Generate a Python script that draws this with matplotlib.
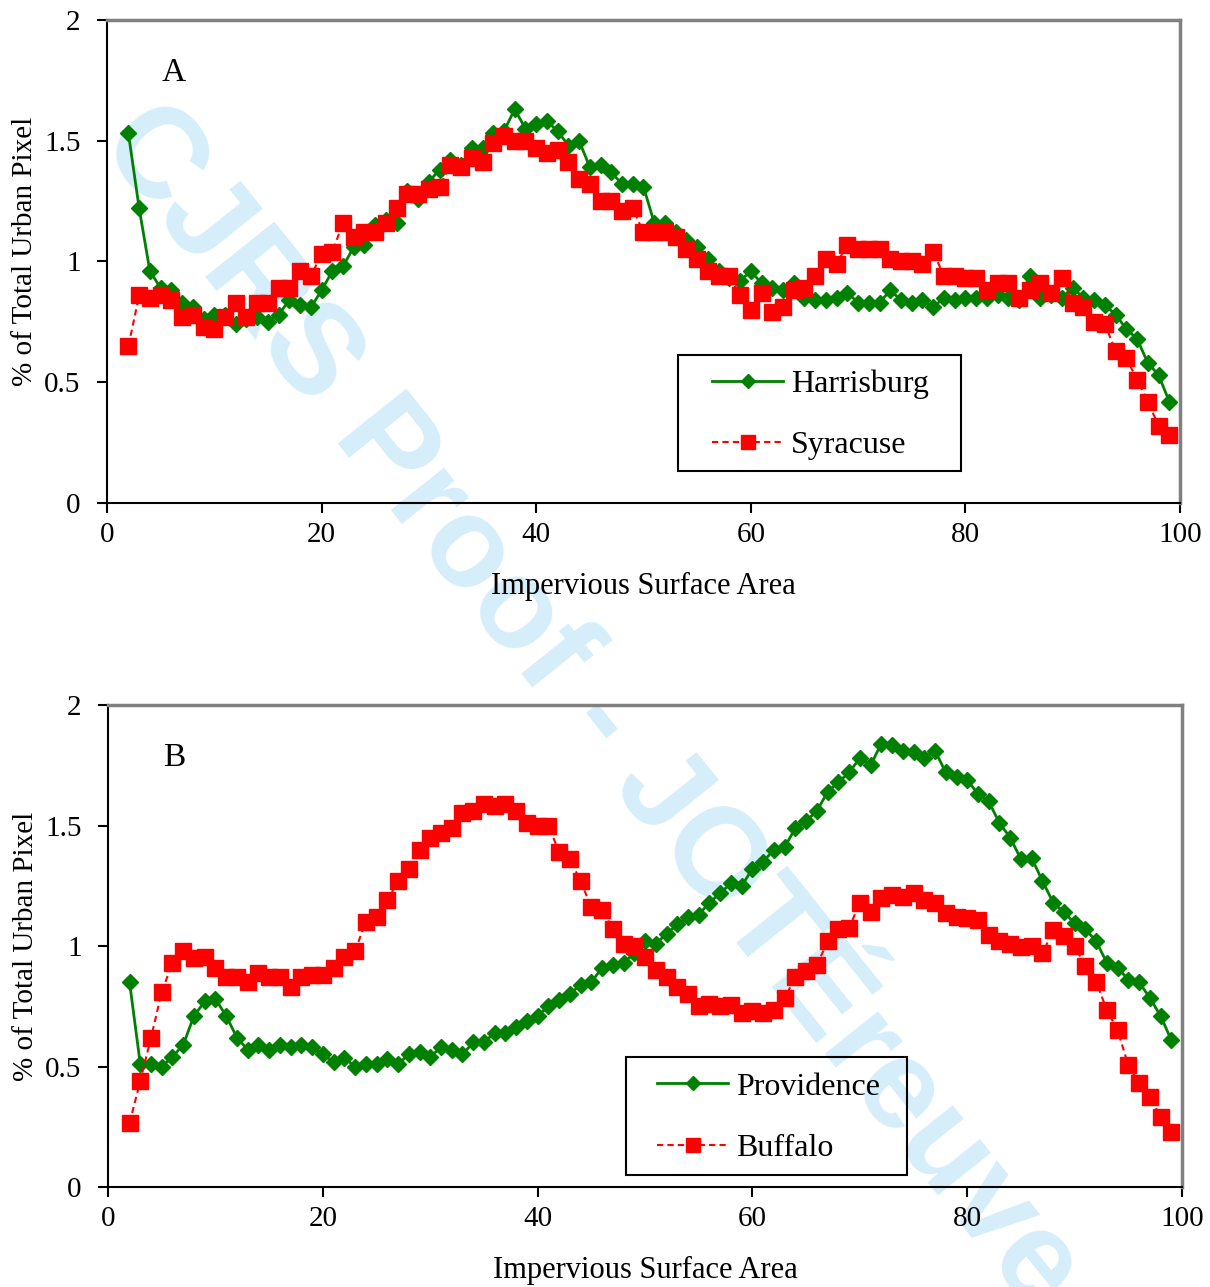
import matplotlib
matplotlib.use("Agg")
import matplotlib.pyplot as plt
from matplotlib.patches import Rectangle

plt.rcParams['font.family'] = ['Liberation Serif', 'DejaVu Serif']

# impervious surface area (%) on the x axis
imperv = list(range(2, 100))

harrisburg = [1.53, 1.22, 0.96, 0.89, 0.88, 0.83, 0.81, 0.76, 0.78, 0.78,
              0.74, 0.76, 0.77, 0.75, 0.78, 0.84, 0.82, 0.81, 0.88, 0.96,
              0.98, 1.06, 1.07, 1.15, 1.17, 1.16, 1.29, 1.26, 1.33, 1.38,
              1.42, 1.40, 1.47, 1.47, 1.53, 1.54, 1.63, 1.55, 1.57, 1.58,
              1.54, 1.48, 1.50, 1.39, 1.40, 1.37, 1.32, 1.32, 1.31, 1.16,
              1.16, 1.12, 1.09, 1.06, 1.01, 0.96, 0.93, 0.92, 0.96, 0.91,
              0.89, 0.88, 0.91, 0.85, 0.84, 0.84, 0.85, 0.87, 0.83, 0.83,
              0.83, 0.88, 0.84, 0.83, 0.84, 0.81, 0.85, 0.84, 0.85, 0.85,
              0.85, 0.86, 0.85, 0.84, 0.94, 0.85, 0.86, 0.85, 0.89, 0.85,
              0.84, 0.82, 0.78, 0.72, 0.68, 0.58, 0.53, 0.42]

syracuse = [0.65, 0.86, 0.85, 0.86, 0.84, 0.77, 0.78, 0.73, 0.72, 0.77,
            0.83, 0.77, 0.83, 0.83, 0.89, 0.89, 0.96, 0.94, 1.03, 1.04,
            1.16, 1.10, 1.12, 1.12, 1.16, 1.22, 1.28, 1.28, 1.30, 1.31,
            1.40, 1.39, 1.43, 1.41, 1.49, 1.52, 1.50, 1.50, 1.47, 1.45,
            1.46, 1.41, 1.34, 1.32, 1.25, 1.25, 1.21, 1.22, 1.12, 1.12,
            1.12, 1.10, 1.05, 1.01, 0.96, 0.94, 0.94, 0.86, 0.80, 0.87,
            0.79, 0.81, 0.88, 0.89, 0.94, 1.01, 0.99, 1.07, 1.05, 1.05,
            1.05, 1.01, 1.00, 1.00, 0.99, 1.04, 0.94, 0.94, 0.93, 0.93,
            0.88, 0.91, 0.91, 0.85, 0.88, 0.91, 0.87, 0.93, 0.83, 0.81,
            0.75, 0.74, 0.63, 0.60, 0.51, 0.42, 0.32, 0.28]

providence = [0.85, 0.51, 0.51, 0.50, 0.54, 0.59, 0.71, 0.77, 0.78, 0.71,
              0.62, 0.57, 0.59, 0.57, 0.59, 0.58, 0.59, 0.58, 0.55, 0.52,
              0.535, 0.50, 0.51, 0.51, 0.53, 0.51, 0.55, 0.56, 0.54, 0.58,
              0.57, 0.55, 0.60, 0.60, 0.64, 0.64, 0.665, 0.69, 0.71, 0.75,
              0.775, 0.80, 0.84, 0.85, 0.91, 0.92, 0.93, 0.97, 1.02, 1.01,
              1.05, 1.09, 1.12, 1.13, 1.18, 1.22, 1.26, 1.25, 1.32, 1.35,
              1.40, 1.41, 1.49, 1.52, 1.56, 1.64, 1.68, 1.72, 1.78, 1.75,
              1.84, 1.835, 1.81, 1.805, 1.78, 1.81, 1.72, 1.70, 1.69, 1.63,
              1.60, 1.51, 1.45, 1.36, 1.365, 1.27, 1.18, 1.14, 1.095, 1.07,
              1.02, 0.93, 0.91, 0.86, 0.85, 0.785, 0.71, 0.61]

buffalo = [0.265, 0.44, 0.62, 0.81, 0.93, 0.98, 0.95, 0.955, 0.91, 0.87,
           0.87, 0.85, 0.89, 0.87, 0.87, 0.83, 0.87, 0.88, 0.88, 0.91,
           0.955, 0.98, 1.10, 1.12, 1.19, 1.27, 1.32, 1.40, 1.45, 1.47,
           1.49, 1.55, 1.56, 1.59, 1.58, 1.59, 1.56, 1.51, 1.50, 1.50,
           1.39, 1.36, 1.27, 1.16, 1.15, 1.07, 1.01, 1.00, 0.955, 0.90,
           0.87, 0.83, 0.80, 0.75, 0.76, 0.75, 0.755, 0.72, 0.73, 0.72,
           0.735, 0.785, 0.87, 0.895, 0.92, 1.02, 1.07, 1.075, 1.18, 1.14,
           1.20, 1.21, 1.205, 1.22, 1.19, 1.18, 1.135, 1.12, 1.115, 1.11,
           1.045, 1.02, 1.01, 0.995, 1.00, 0.97, 1.065, 1.04, 1.00, 0.915,
           0.85, 0.735, 0.65, 0.505, 0.43, 0.375, 0.29, 0.23]

xticks = [0, 20, 40, 60, 80, 100]
yticks = [0, 0.5, 1, 1.5, 2]
ytick_labels = ["0", "0.5", "1", "1.5", "2"]

fig = plt.figure(figsize=(12.1, 12.87), dpi=100)

# watermark behind everything
fig.text(0.101, 0.905, "CJRS Proof - JOTÉreuve", rotation=-51.4,
         rotation_mode='anchor', ha='left', va='center', fontsize=92,
         family=['Liberation Sans', 'DejaVu Sans'], weight='bold',
         color='#d5eefa', zorder=-1)

panels = [
    dict(rect=[0.0884, 0.6092, 0.8868, 0.3753], green=harrisburg, red=syracuse,
         names=("Harrisburg", "Syracuse"), tag="A",
         box=(0.532, 0.066, 0.796, 0.306), leg=(0.665, 0.182), ylab=0.52),
    dict(rect=[0.0893, 0.0777, 0.8876, 0.3745], green=providence, red=buffalo,
         names=("Providence", "Buffalo"), tag="B",
         box=(0.482, 0.025, 0.744, 0.270), leg=(0.615, 0.144), ylab=0.50),
]

for p in panels:
    ax = fig.add_axes(p['rect'])
    ax.patch.set_alpha(0)

    ax.plot(imperv, p['green'], color='#008000', lw=2, marker='D', ms=8,
            mec='#008000', label=p['names'][0])
    ax.plot(imperv, p['red'], color='#ff0000', lw=1.5, ls=(0, (3, 2)),
            marker='s', ms=11, mec='#ff0000', label=p['names'][1])

    ax.set_xlim(0, 100)
    ax.set_ylim(0, 2)
    ax.set_xticks(xticks)
    ax.set_yticks(yticks)
    ax.set_yticklabels(ytick_labels)
    ax.tick_params(direction='out', length=7, width=1.5, labelsize=21)
    ax.tick_params(axis='x', pad=7)
    ax.tick_params(axis='y', pad=12)

    for s in ['left', 'bottom']:
        ax.spines[s].set_color('black')
        ax.spines[s].set_linewidth(1.5)
    for s in ['top', 'right']:
        ax.spines[s].set_color('#808080')
        ax.spines[s].set_linewidth(2.5)

    ax.set_xlabel("Impervious Surface Area", fontsize=22)
    ax.xaxis.set_label_coords(0.5, -0.173)
    ax.xaxis.label.set_va('center')
    ax.set_ylabel("% of Total Urban Pixel", fontsize=21)
    ax.yaxis.set_label_coords(-0.076, p['ylab'])
    ax.yaxis.label.set_va('center')

    ax.text(0.062, 0.89, p['tag'], transform=ax.transAxes, fontsize=24,
            ha='center', va='center')

    x0, y0, x1, y1 = p['box']
    ax.add_patch(Rectangle((x0, y0), x1 - x0, y1 - y0, transform=ax.transAxes,
                           fill=False, ec='black', lw=1.5, clip_on=False))
    ax.legend(loc='center', bbox_to_anchor=p['leg'], frameon=False,
              fontsize=23, handlelength=2.2, handletextpad=0.25,
              labelspacing=1.0, markerscale=0.9)

plt.savefig("out.png", dpi=100)
